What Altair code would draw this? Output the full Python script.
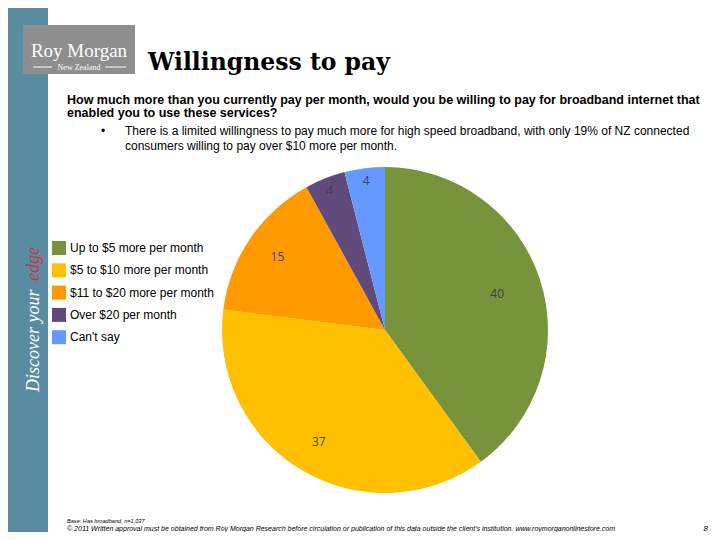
import altair as alt
import pandas as pd

# ---- data ----
categories = ["Up to $5 more per month", "$5 to $10 more per month",
              "$11 to $20 more per month", "Over $20 per month", "Can't say"]
values = [40, 37, 15, 4, 4]
colors = ["#77933C", "#FFC000", "#FF9A00", "#604A7B", "#6699FF"]

title_text = "Willingness to pay"
question_lines = ["How much more than you currently pay per month, would you be willing to pay for broadband internet that",
                  "enabled you to use these services?"]
bullet_lines = ["There is a limited willingness to pay much more for high speed broadband, with only 19% of NZ connected",
                "consumers willing to pay over $10 more per month."]
footer_base = "Base: Has broadband, n=1,037"
footer_copy = ("\u00a9 2011 Written approval must be obtained from Roy Morgan Research before circulation or "
               "publication of this data outside the client's institution. www.roymorganonlinestore.com")
page_no = "8"

df = pd.DataFrame({"category": categories, "value": values, "idx": list(range(len(categories)))})
one = pd.DataFrame({"a": [0]})

W, H = 704, 524
CX, CY, R = 377, 322, 163

color_scale = alt.Scale(domain=categories, range=colors)

pie = alt.Chart(df).mark_arc(outerRadius=R).encode(
    theta=alt.Theta("value:Q", stack=True),
    order=alt.Order("idx:Q"),
    color=alt.Color("category:N", scale=color_scale, sort=categories,
                    legend=alt.Legend(title=None, orient="none", legendX=44, legendY=233,
                                      symbolType="square", symbolSize=196, symbolStrokeWidth=0,
                                      symbolOpacity=1,
                                      labelFont="Liberation Sans", labelFontSize=12,
                                      labelColor="#000000", labelOffset=4, rowPadding=8.3,
                                      padding=0, labelLimit=300)),
    x=alt.value(CX), y=alt.value(CY),
)

# label positions derived from the cumulative share of each slice
labels = alt.Chart(df).transform_window(
    cum="sum(value)", sort=[alt.SortField("idx")], frame=[None, 0]
).transform_joinaggregate(
    total="sum(value)"
).transform_calculate(
    r="datum.value >= 38 ? 118 : (datum.value >= 10 ? 130 : 150)",
    ang="(datum.cum - datum.value / 2) / datum.total * 2 * PI",
).transform_calculate(
    px=f"{CX} + datum.r * sin(datum.ang)",
    py=f"{CY} - datum.r * cos(datum.ang)",
).mark_text(font="Open Sans", fontSize=12, color="#404040").encode(
    x=alt.X("px:Q", scale=None, axis=None),
    y=alt.Y("py:Q", scale=None, axis=None),
    text=alt.Text("value:Q"),
)

def txt(s, x, y, **kw):
    return alt.Chart(one).mark_text(text=s, **kw).encode(x=alt.value(x), y=alt.value(y))

def rect(x, x2, y, y2, color):
    return alt.Chart(one).mark_rect(color=color).encode(
        x=alt.value(x), x2=alt.value(x2), y=alt.value(y), y2=alt.value(y2))

def rule(x, x2, y, color, w=1):
    return alt.Chart(one).mark_rule(color=color, strokeWidth=w).encode(
        x=alt.value(x), x2=alt.value(x2), y=alt.value(y))

layers = [
    rect(0, 40, 0, H, "#5A8CA1"),
    txt("Discover your", 31, 384, angle=270, align="left", baseline="alphabetic",
        font="Liberation Serif", fontStyle="italic", fontSize=18, color="#FFFFFF"),
    txt("edge", 31, 239, angle=270, align="right", baseline="alphabetic",
        font="Liberation Serif", fontStyle="italic", fontSize=18, color="#C8334A"),
    rect(15, 127, 17, 66, "#8E8E8E"),
    txt("Roy Morgan", 71, 49, align="center", baseline="alphabetic",
        font="Liberation Serif", fontSize=19, color="#FFFFFF"),
    txt("New Zealand", 71, 62, align="center", baseline="alphabetic",
        font="Liberation Serif", fontSize=8, color="#FFFFFF"),
    rule(25, 44, 59, "#FFFFFF"),
    rule(97, 118, 59, "#FFFFFF"),
    txt(title_text, 140, 62, align="left", baseline="alphabetic",
        font="DejaVu Serif", fontWeight="bold", fontSize=23.5, color="#000000"),
    txt(question_lines[0], 59, 96, align="left", baseline="alphabetic",
        font="Liberation Sans", fontWeight="bold", fontSize=12.5, color="#000000"),
    txt(question_lines[1], 59, 109, align="left", baseline="alphabetic",
        font="Liberation Sans", fontWeight="bold", fontSize=12.5, color="#000000"),
    txt("\u2022", 93, 127, align="left", baseline="alphabetic",
        font="Liberation Sans", fontSize=12, color="#000000"),
    txt(bullet_lines[0], 117, 127, align="left", baseline="alphabetic",
        font="Liberation Sans", fontSize=12, color="#000000"),
    txt(bullet_lines[1], 117, 142, align="left", baseline="alphabetic",
        font="Liberation Sans", fontSize=12, color="#000000"),
    pie,
    labels,
    txt(footer_base, 59, 515, align="left", baseline="alphabetic",
        font="Liberation Sans", fontStyle="italic", fontSize=5.6, color="#000000"),
    txt(footer_copy, 59, 523, align="left", baseline="alphabetic",
        font="Liberation Sans", fontStyle="italic", fontSize=7, color="#000000"),
    txt(page_no, 700, 523, align="right", baseline="alphabetic",
        font="Liberation Sans", fontStyle="italic", fontSize=8, color="#000000"),
]

chart = alt.layer(*layers).properties(
    width=W, height=H, padding=0,
    autosize=alt.AutoSizeParams(type="none"),
).configure_view(stroke=None)

chart.save("out.html", embed_options={"renderer": "svg", "actions": False})
